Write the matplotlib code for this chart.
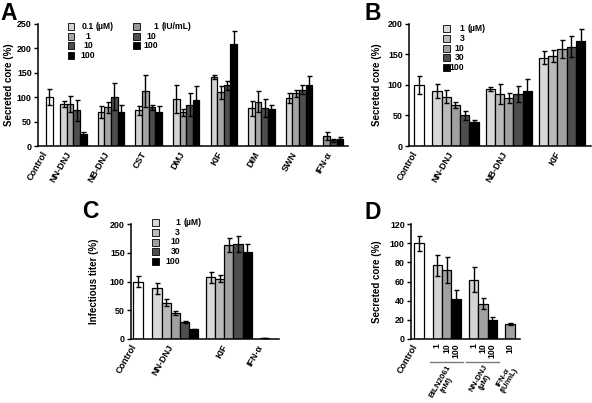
import numpy as np
import matplotlib
matplotlib.use("Agg")
import matplotlib.pyplot as plt
from matplotlib.patches import Rectangle
from matplotlib.lines import Line2D
import matplotlib.transforms as mtransforms

plt.rcParams['font.family'] = ['Liberation Sans', 'DejaVu Sans']
plt.rcParams['font.weight'] = 'bold'
plt.rcParams['axes.linewidth'] = 1.1

LEG_SIZE = 6.2

# ---------------- data ----------------
# Panel A
A_groups = ["NN-DNJ", "NB-DNJ", "CST", "DMJ", "KIF", "DIM", "SWN", "IFN-α"]
A_control = 100
A_control_err = 16
A_vals = [[86, 86, 73, 25], [70, 79, 101, 70], [73, 112, 79, 70], [97, 69, 85, 94],
          [141, 110, 124, 208], [77, 91, 78, 75], [99, 108, 115, 124], [20, 12, 14]]
A_errs = [[6, 17, 21, 4], [12, 12, 28, 15], [9, 33, 6, 11], [29, 7, 24, 28],
          [4, 13, 9, 27], [16, 21, 18, 9], [10, 7, 9, 20], [8, 3, 4]]
A_doses = ["0.1", "1", "10", "100"]
A_ifn_doses = ["1", "10", "100"]
A_colors = ['#d3d3d3', '#a4a4a4', '#4e4e4e', '#000000']
A_ifn_colors = ['#969696', '#4e4e4e', '#000000']

# Panel B
B_groups = ["NN-DNJ", "NB-DNJ", "KIF"]
B_control = 100
B_control_err = 14
B_vals = [[90, 81, 67, 50, 39], [93, 85, 79, 85, 90], [145, 147, 159, 163, 172]]
B_errs = [[12, 11, 5, 8, 4], [3, 16, 8, 13, 20], [10, 10, 15, 17, 20]]
B_doses = ["1", "3", "10", "30", "100"]
B_colors = ['#d9d9d9', '#bababa', '#a0a0a0', '#4e4e4e', '#000000']

# Panel C
C_groups = ["NN-DNJ", "KIF", "IFN-α"]
C_control = 100
C_control_err = 9
C_vals = [[88, 63, 45, 29, 17], [107, 105, 164, 166, 151], [1.5]]
C_errs = [[9, 6, 4, 2, 1], [10, 6, 12, 14, 15], [0.5]]
C_doses = ["1", "3", "10", "30", "100"]
C_colors = ['#d9d9d9', '#bababa', '#a0a0a0', '#4e4e4e', '#000000']
C_ifn_colors = ['#a0a0a0']

# Panel D
D_groups = ["BILN2061\n(nM)", "NN-DNJ\n(µM)", "IFN-α\n(IU/mL)"]
D_control = 100
D_control_err = 8
D_vals = [[77, 72, 42], [62, 37, 20], [16]]
D_errs = [[11, 14, 9], [13, 6, 3], [1]]
D_doses = [["1", "10", "100"], ["1", "10", "100"], ["10"]]
D_colors = [['#d3d3d3', '#a0a0a0', '#000000'], ['#d3d3d3', '#a0a0a0', '#000000'], ['#a0a0a0']]

# ---------------- layout helpers ----------------
W, H = 592, 403
fig = plt.figure(figsize=(W / 100, H / 100), dpi=100)


def ax_px(l, t, r, b):
    return fig.add_axes([l / W, 1 - b / H, (r - l) / W, (b - t) / H])


def ftext(x, y, s, **kw):
    return fig.text(x / W, 1 - y / H, s, **kw)


def ltext(x, y, s, ha):
    return ftext(x, y, s, ha=ha, va='center', fontsize=LEG_SIZE)


def square(xc, yc, color, s=6.5):
    fig.patches.append(Rectangle(((xc - s / 2) / W, 1 - (yc + s / 2) / H), s / W, s / H,
                                 transform=fig.transFigure, facecolor=color,
                                 edgecolor='black', lw=0.6))


EKW = dict(ecolor='black', elinewidth=1.0, capsize=1.8, capthick=1.0)


def style_axes(ax, ymax, ystep, xmax, ylabel, label_x):
    ax.set_ylim(0, ymax)
    ax.set_xlim(0, xmax)
    ax.set_yticks(np.arange(0, ymax + 1, ystep))
    ax.spines['top'].set_visible(False)
    ax.spines['right'].set_visible(False)
    ax.tick_params(axis='y', direction='out', length=3, width=1, labelsize=6.4, pad=1.5)
    ax.tick_params(axis='x', length=0, labelsize=6.5, pad=3)
    ax.set_ylabel(ylabel, fontsize=7, fontweight='bold')
    ax.yaxis.set_label_coords(label_x, 0.5)


def draw_panel(ax, control, control_err, vals, errs, colors_list, ctrl_x, start0, spacing,
               cw=1.1):
    ax.bar([ctrl_x], [control], width=cw, color='white', edgecolor='black', lw=0.9,
           yerr=[control_err], error_kw=EKW, zorder=2)
    centers = []
    for g, (v, e, cols) in enumerate(zip(vals, errs, colors_list)):
        st = start0 + spacing * g
        xs = st + 0.5 + np.arange(len(v))
        ax.bar(xs, v, width=1.0, color=cols, edgecolor='black', lw=0.9,
               yerr=e, error_kw=EKW, zorder=2)
        centers.append((st, st + len(v), xs))
    return centers


# ---------------- Panel A ----------------
axA = ax_px(38, 24, 348, 146)
colsA = [A_colors] * 7 + [A_ifn_colors]
cA = draw_panel(axA, A_control, A_control_err, A_vals, A_errs, colsA, 1.74, 3.38, 5.7, cw=1.15)
style_axes(axA, 250, 50, 47, "Secreted core (%)", -0.076)
axA.set_xticks([1.74] + [(a + b) / 2 for a, b, _ in cA])
axA.set_xticklabels(["Control"] + A_groups, rotation=60, ha='right', fontsize=6.5)

# legend A
rowsA = [26.7, 36.3, 45.7, 55.3]
for i, (d, c) in enumerate(zip(A_doses, A_colors)):
    square(71, rowsA[i], c)
    ltext(88, rowsA[i], d, 'center')
ltext(95.5, rowsA[0], "(µM)", 'left')
for i, (d, c) in enumerate(zip(A_ifn_doses, A_ifn_colors)):
    square(136.7, rowsA[i], c)
    if i == 0:
        ltext(156, rowsA[i], d, 'center')
        ltext(161.5, rowsA[i], "(IU/mL)", 'left')
    else:
        ltext(151, rowsA[i], d, 'center')

# ---------------- Panel B ----------------
axB = ax_px(409, 24, 591, 146)
cB = draw_panel(axB, B_control, B_control_err, B_vals, B_errs, [B_colors] * 3, 1.09, 2.53, 5.77, cw=1.05)
style_axes(axB, 200, 50, 19.7, "Secreted core (%)", -0.147)
axB.set_xticks([1.09] + [(a + b) / 2 for a, b, _ in cB])
axB.set_xticklabels(["Control"] + B_groups, rotation=60, ha='right', fontsize=6.5)

rowsB = [28.7, 38.4, 48.1, 57.9, 67.6]
for i, (d, c) in enumerate(zip(B_doses, B_colors)):
    square(446.7, rowsB[i], c, s=7)
    ltext(464.5, rowsB[i], d, 'right')
ltext(468, rowsB[0], "(µM)", 'left')

# ---------------- Panel C ----------------
axC = ax_px(131, 224, 279, 339)
cC = draw_panel(axC, C_control, C_control_err, C_vals, C_errs,
                [C_colors, C_colors, C_ifn_colors], 0.8, 2.32, 5.83, cw=1.1)
style_axes(axC, 200, 50, 16.1, "Infectious titer (%)", -0.213)
axC.set_xticks([0.8] + [(a + b) / 2 for a, b, _ in cC])
axC.set_xticklabels(["Control"] + C_groups, rotation=60, ha='right', fontsize=6.5)

rowsC = [222.7, 232.3, 242.0, 251.7, 261.3]
for i, (d, c) in enumerate(zip(C_doses, C_colors)):
    square(155, rowsC[i], c, s=7)
    ltext(180, rowsC[i], d, 'right')
ltext(183.5, rowsC[0], "(µM)", 'left')

# ---------------- Panel D ----------------
axD = ax_px(411, 224, 520, 339)
cD = draw_panel(axD, D_control, D_control_err, D_vals, D_errs, D_colors, 0.87, 2.31, 3.86, cw=1.05)
style_axes(axD, 120, 20, 11.6, "Secreted core (%)", -0.264)
tick_pos = [0.87]
tick_lab = ["Control"]
for (a, b, xs), doses in zip(cD, D_doses):
    tick_pos += list(xs)
    tick_lab += doses
axD.set_xticks(tick_pos)
axD.set_xticklabels(tick_lab, fontsize=6.5)
for k, lab in enumerate(axD.get_xticklabels()):
    if k == 0:
        lab.set_rotation(60)
        lab.set_ha('right')
    else:
        lab.set_rotation(90)
        lab.set_ha('center')
        lab.set_va('top')
        lab.set_fontsize(6.2)

trD = mtransforms.blended_transform_factory(axD.transData, axD.transAxes)
yline = -(361.7 - 339) / 115
for (a, b, xs) in cD[:2]:
    axD.add_line(Line2D([a - 0.3, b + 0.2], [yline, yline], transform=trD, color='#7a7a7a',
                        lw=1.0, clip_on=False))
grp_label_x = [459, 495, 519]
for gx, g in zip(grp_label_x, D_groups):
    ftext(gx, 363.5, g, rotation=60, ha='right', va='top', multialignment='center',
          fontsize=5.8, linespacing=1.0)

# ---------------- panel letters ----------------
LF = dict(fontsize=16.5, fontweight='bold', ha='left', va='baseline')
ftext(0, 20, "A", **LF)
ftext(365, 20, "B", **LF)
ftext(82.5, 218.5, "C", **LF)
ftext(365, 219, "D", **LF)

fig.savefig("out.png", dpi=100)
